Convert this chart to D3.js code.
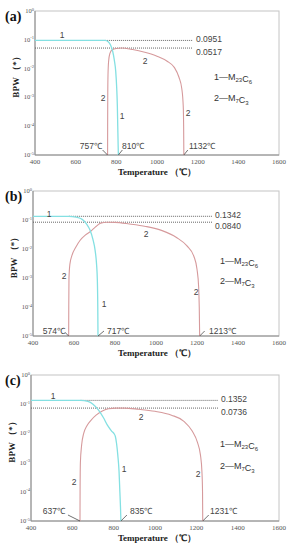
<!DOCTYPE html>
<html>
<head>
<meta charset="utf-8">
<script src="https://cdn.jsdelivr.net/npm/d3@7"></script>
<style>
  body { margin: 0; background: #fff; }
  svg { display: block; }
</style>
</head>
<body>
<div id="chart"></div>
<script>
"use strict";

// shared axis values
var tempTicks = [400, 600, 800, 1000, 1200, 1400, 1600];
var bpwTicks = [0, -1, -2, -3, -4, -5];   // exponents of 10
var phaseNames = ["M23C6", "M7C3"];

// panel (a)
var a_M23C6 = [[400,0.0951],[745,0.0951],[760,0.085],[772,0.065],[782,0.04],[790,0.02],[797,0.008],[802,0.002],[805,5e-4],[807,1e-4],[809,2e-5],[810,1e-5]];
var a_M7C3 = [[757,1e-5],[757.3,1e-4],[757.8,1e-3],[759,6e-3],[762,0.018],[768,0.033],[780,0.045],[800,0.05],[825,0.0517],[880,0.046],[940,0.037],[1000,0.027],[1050,0.018],[1085,0.011],[1108,0.005],[1122,0.002],[1129,5e-4],[1131,1e-4],[1132,1e-5]];
var a_marks = [0.0951, 0.0517];
var a_temps = [757, 810, 1132];

// panel (b)
var b_M23C6 = [[400,0.1342],[575,0.1342],[610,0.125],[640,0.105],[660,0.075],[678,0.045],[692,0.022],[703,0.009],[710,0.003],[714,8e-4],[716,1e-4],[717,1e-5]];
var b_M7C3 = [[574,1e-5],[574.5,1e-4],[575.5,1e-3],[580,3e-3],[590,6e-3],[610,0.012],[630,0.02],[655,0.03],[680,0.04],[705,0.058],[730,0.078],[760,0.084],[800,0.083],[870,0.073],[950,0.06],[1030,0.043],[1100,0.025],[1150,0.013],[1185,0.0055],[1200,0.002],[1208,5e-4],[1211,1e-4],[1213,1e-5]];
var b_marks = [0.1342, 0.0840];
var b_temps = [574, 717, 1213];

// panel (c)
var c_M23C6 = [[400,0.1352],[640,0.1352],[675,0.125],[700,0.1],[725,0.065],[750,0.035],[772,0.018],[790,0.012],[803,0.0095],[808,0.008],[814,0.0045],[820,0.0018],[826,5e-4],[830,1e-4],[833,3e-5],[835,1e-5]];
var c_M7C3 = [[637,1e-5],[637.5,1e-4],[639,1e-3],[645,4e-3],[655,0.01],[670,0.018],[690,0.028],[715,0.042],[745,0.058],[775,0.07],[810,0.0736],[850,0.0736],[920,0.067],[1000,0.057],[1080,0.042],[1140,0.026],[1180,0.012],[1205,0.005],[1220,0.0018],[1227,5e-4],[1230,1e-4],[1231,1e-5]];
var c_marks = [0.1352, 0.0736];
var c_temps = [637, 835, 1231];

var width = 295, height = 550;
var svg = d3.select("#chart").append("svg")
	.attr("width", width)
	.attr("height", height);

var cyan = "#84e0e2";
var rose = "#d69a9c";
var textGray = "#444";

function drawPanel(p){
	var g = svg.append("g");
	var x = d3.scaleLinear().domain([400, 1600]).range([p.left, 279]);
	var y = d3.scaleLog().domain([1e-5, 1]).range([p.bottom, p.top]);

	//frame of the plot: darker on the axis sides
	g.append("rect")
		.attr("x", p.left).attr("y", p.top)
		.attr("width", 279 - p.left).attr("height", p.bottom - p.top)
		.style("fill", "none").style("stroke", "#c4c4c4").style("stroke-width", "1px");
	g.append("path")
		.attr("d", "M" + p.left + "," + p.top + "V" + p.bottom + "H279")
		.style("fill", "none").style("stroke", "#8a8a8a").style("stroke-width", "1px");

	//tick labels on x
	g.selectAll(".xt")
		.data(tempTicks)
		.enter()
		.append("text")
		.attr("x", function(d){ return x(d); })
		.attr("y", p.bottom + 8.5)
		.attr("text-anchor", "middle")
		.style("font-family", "'Liberation Serif', serif")
		.style("font-size", "7px")
		.style("fill", "#555")
		.text(function(d){ return d; });

	//tick labels on y, 10 with a raised exponent
	var yt = g.selectAll(".yt")
		.data(bpwTicks)
		.enter()
		.append("text")
		.attr("x", p.left - 1)
		.attr("y", function(d){ return y(Math.pow(10, d)) + 2; })
		.attr("text-anchor", "end")
		.style("font-family", "'Liberation Serif', serif")
		.style("font-size", "6.5px")
		.style("fill", "#555");
	yt.append("tspan").text("10");
	yt.append("tspan")
		.attr("dy", -2.5)
		.style("font-size", "4.5px")
		.text(function(d){ return d === 0 ? "0" : "-" + (-d); });

	//axis titles
	g.append("text")
		.attr("x", 157).attr("y", p.bottom + 20)
		.attr("text-anchor", "middle")
		.style("font-family", "'Liberation Serif', serif")
		.style("font-weight", "bold")
		.style("font-size", "9px")
		.style("fill", "#222")
		.text("Temperature\u00a0\uFF08\u2103\uFF09");
	g.append("text")
		.attr("transform", "translate(" + (p.left - 16) + "," + ((p.top + p.bottom) / 2 - 8) + ") rotate(-90)")
		.attr("text-anchor", "middle")
		.style("font-family", "'Liberation Serif', serif")
		.style("font-weight", "bold")
		.style("font-size", "9px")
		.style("fill", "#222")
		.text("BPW\u00a0\uFF08*\uFF09");

	//panel letter
	g.append("text")
		.attr("x", 5).attr("y", p.top + 10)
		.style("font-family", "'Liberation Serif', serif")
		.style("font-weight", "bold")
		.style("font-size", "14px")
		.style("fill", "#111")
		.text(p.letter);

	//dotted reference lines for the max amounts
	var lineEnd = p.markEnd;
	g.append("line")
		.attr("x1", x(p.m23[1][0])).attr("x2", lineEnd)
		.attr("y1", y(p.marks[0])).attr("y2", y(p.marks[0]))
		.style("stroke", "#555").style("stroke-width", "0.9px").style("stroke-dasharray", "1,1");
	g.append("line")
		.attr("x1", p.left).attr("x2", lineEnd)
		.attr("y1", y(p.marks[1])).attr("y2", y(p.marks[1]))
		.style("stroke", "#555").style("stroke-width", "0.9px").style("stroke-dasharray", "1,1");
	g.selectAll(".mk")
		.data(p.marks)
		.enter()
		.append("text")
		.attr("x", lineEnd + 3)
		.attr("y", function(d, i){ return y(d) + (i === 0 ? 1.5 : 6.5); })
		.style("font-family", "'Liberation Sans', Arial, sans-serif")
		.style("font-size", "8.5px")
		.style("fill", textGray)
		.text(function(d){ return d.toFixed(4); });

	//the two phase curves
	var line = d3.line()
		.x(function(d){ return x(d[0]); })
		.y(function(d){ return y(d[1]); })
		.curve(d3.curveMonotoneX);
	g.append("path")
		.datum(p.m7)
		.attr("d", line)
		.style("fill", "none").style("stroke", rose).style("stroke-width", "1.1px");
	g.append("path")
		.datum(p.m23)
		.attr("d", line)
		.style("fill", "none").style("stroke", cyan).style("stroke-width", "1.3px");

	//curve numbers
	g.selectAll(".num")
		.data(p.nums)
		.enter()
		.append("text")
		.attr("x", function(d){ return d[1]; })
		.attr("y", function(d){ return d[2]; })
		.attr("text-anchor", "middle")
		.style("font-family", "'Liberation Sans', Arial, sans-serif")
		.style("font-size", "8.5px")
		.style("fill", textGray)
		.text(function(d){ return d[0]; });

	//start / end temperatures with little leaders
	g.selectAll(".tl")
		.data(p.temps)
		.enter()
		.append("text")
		.attr("x", function(d, i){ return p.tempPos[i][0]; })
		.attr("y", function(d, i){ return p.tempPos[i][1]; })
		.attr("text-anchor", function(d, i){ return p.tempPos[i][2]; })
		.style("font-family", "'Liberation Sans', Arial, sans-serif")
		.style("font-size", "8.5px")
		.style("fill", textGray)
		.text(function(d){ return d + "\u2103"; });
	g.selectAll(".ld")
		.data(p.temps)
		.enter()
		.append("line")
		.attr("x1", function(d, i){ return x(d) + p.lead[i][0]; })
		.attr("y1", function(d, i){ return p.bottom - p.lead[i][1]; })
		.attr("x2", function(d){ return x(d); })
		.attr("y2", p.bottom)
		.style("stroke", "#333").style("stroke-width", "0.7px");

	//legend
	g.selectAll(".lg")
		.data(phaseNames)
		.enter()
		.append("text")
		.attr("x", p.legend[0])
		.attr("y", function(d, i){ return p.legend[1] + i * p.legend[2]; })
		.style("font-family", "'Liberation Sans', Arial, sans-serif")
		.style("font-size", "9px")
		.style("fill", "#333")
		.each(function(d, i){
			var t = d3.select(this);
			t.append("tspan").text((i + 1) + "\u2014M");
			var sub = d.slice(1).match(/\d+|[A-Z]/g);
			sub.forEach(function(s){
				if(/\d/.test(s)){
					t.append("tspan").attr("dy", 2).style("font-size", "6px").text(s);
					t.append("tspan").attr("dy", -2).text("");
				}else{
					t.append("tspan").text(s);
				}
			});
		});
}

drawPanel({
	letter: "(a)", left: 35, top: 11, bottom: 155,
	m23: a_M23C6, m7: a_M7C3, marks: a_marks, markEnd: 193,
	temps: a_temps,
	tempPos: [[102, 149, "end"], [122, 149, "start"], [189, 149, "start"]],
	lead: [[-5, 5], [4, 5], [4, 5]],
	nums: [["1", 62, 38], ["2", 103, 101], ["1", 122, 119], ["2", 145, 64], ["2", 188, 116]],
	legend: [214, 80, 21]
});
drawPanel({
	letter: "(b)", left: 33, top: 191, bottom: 336,
	m23: b_M23C6, m7: b_M7C3, marks: b_marks, markEnd: 212,
	temps: b_temps,
	tempPos: [[65, 334, "end"], [107, 334, "start"], [209, 334, "start"]],
	lead: [[-4, 4], [6, 5], [5, 5]],
	nums: [["1", 49, 217], ["2", 64, 279], ["1", 104, 307], ["2", 146, 237], ["2", 196, 295]],
	legend: [220, 264, 20]
});
drawPanel({
	letter: "(c)", left: 31, top: 375, bottom: 521,
	m23: c_M23C6, m7: c_M7C3, marks: c_marks, markEnd: 218,
	temps: c_temps,
	tempPos: [[65, 514, "end"], [130, 514, "start"], [210, 514, "start"]],
	lead: [[-12, 6], [6, 6], [6, 6]],
	nums: [["1", 53, 399], ["2", 74, 485], ["1", 124, 472], ["2", 141, 420], ["2", 198, 477]],
	legend: [220, 447, 22]
});
</script>
</body>
</html>
